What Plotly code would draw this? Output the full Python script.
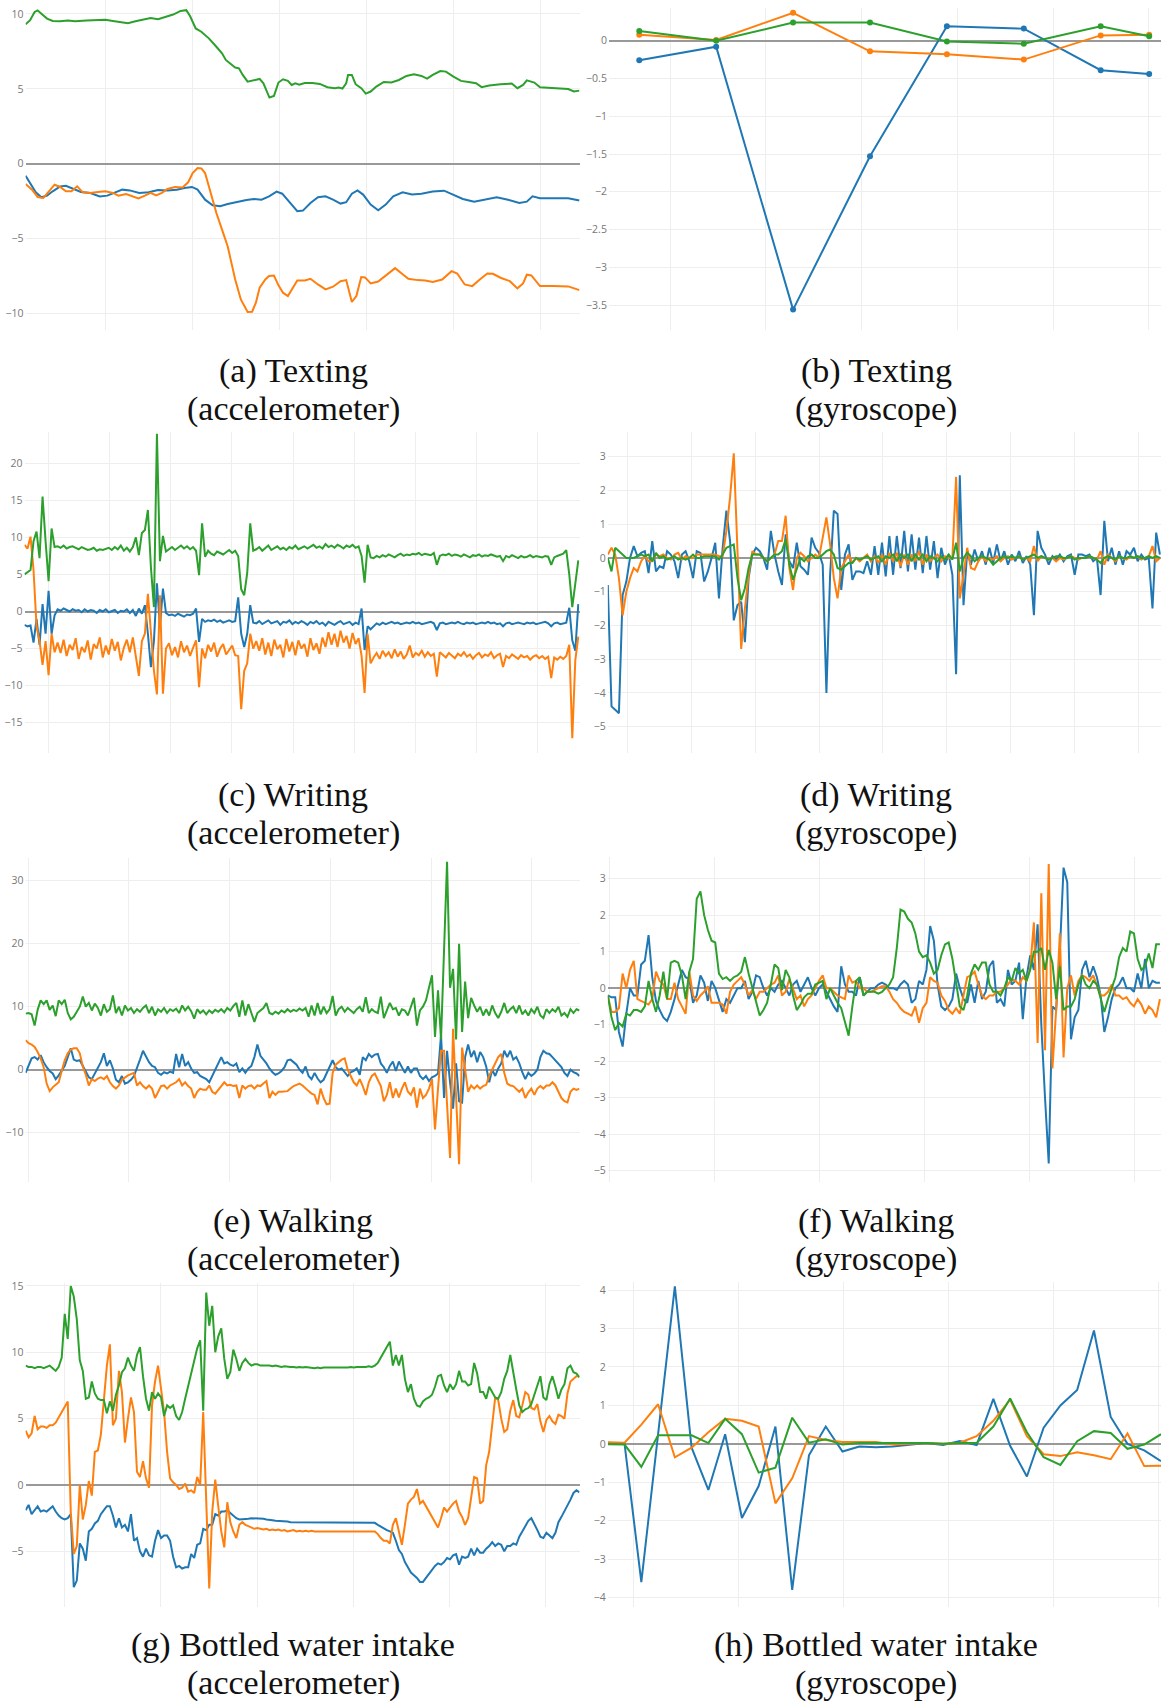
import plotly.graph_objects as go

W, H = 1161, 1702
C_X, C_Y, C_Z = "#1f77b4", "#ff7f0e", "#2ca02c"
GRID = "#eeeeee"
ZERO = "#999999"
TICK = "#777777"

# ---------------- (a) Texting, accelerometer (irregular timestamps) ----------------
ta_x = [68, 80, 95, 110, 125, 140, 160, 175, 195, 215, 240, 265, 285, 305, 325, 345, 370, 395, 420, 445,
        470, 490, 510, 525, 545, 565, 585, 605, 630, 655, 675, 695, 715, 735, 750, 770, 790, 805, 825, 845,
        865, 885, 905, 920, 935, 950, 965, 985, 1005, 1025, 1045, 1070, 1095, 1120, 1150, 1180, 1205, 1230,
        1260, 1290, 1320, 1350, 1380, 1400, 1415, 1435, 1470, 1510, 1540]
a_x = [-0.80, -1.29, -1.91, -2.24, -2.13, -1.84, -1.51, -1.47, -1.69, -1.89, -1.95, -2.18, -2.13, -1.91,
       -1.73, -1.78, -1.95, -1.91, -1.75, -1.78, -1.73, -1.62, -1.55, -1.73, -2.40, -2.77, -2.84, -2.69,
       -2.55, -2.42, -2.35, -2.40, -2.18, -1.86, -2.00, -2.62, -3.17, -3.13, -2.62, -2.24, -2.18, -2.40,
       -2.66, -2.57, -2.00, -1.78, -2.06, -2.73, -3.11, -2.73, -2.18, -1.91, -2.06, -2.00, -1.86, -1.80,
       -2.06, -2.35, -2.53, -2.40, -2.24, -2.40, -2.62, -2.53, -2.18, -2.31, -2.31, -2.31, -2.46]

ta_y = [68, 85, 100, 115, 130, 145, 160, 175, 190, 205, 220, 240, 260, 280, 300, 315, 335, 350, 368, 385,
        400, 415, 430, 445, 465, 485, 500, 512, 525, 535, 545, 560, 575, 590, 605, 615, 625, 640, 658, 670,
        680, 690, 705, 715, 728, 740, 752, 765, 775, 790, 810, 825, 845, 865, 885, 905, 920, 935, 947, 960,
        970, 985, 1005, 1025, 1050, 1065, 1085, 1110, 1130, 1150, 1175, 1200, 1215, 1235, 1255, 1275, 1295,
        1310, 1330, 1355, 1375, 1390, 1400, 1412, 1435, 1470, 1510, 1540]
a_y = [-1.35, -1.73, -2.22, -2.29, -1.84, -1.40, -1.55, -1.84, -1.84, -1.51, -1.91, -1.95, -1.89, -1.84,
       -1.95, -2.13, -2.02, -2.13, -2.31, -2.13, -1.95, -2.11, -1.95, -1.69, -1.55, -1.58, -1.24, -0.62,
       -0.29, -0.31, -0.62, -1.95, -3.29, -4.40, -5.51, -6.62, -7.73, -9.06, -9.90, -9.88, -9.28, -8.28,
       -7.73, -7.50, -7.46, -8.12, -8.61, -8.83, -8.39, -7.79, -7.79, -7.68, -8.06, -8.39, -8.21, -7.84,
       -7.77, -9.23, -8.83, -7.57, -7.59, -7.99, -7.86, -7.46, -6.97, -7.28, -7.68, -7.77, -7.79, -7.90,
       -7.73, -7.17, -7.33, -8.06, -8.17, -7.73, -7.33, -7.35, -7.61, -7.84, -8.32, -7.99, -7.41, -7.46,
       -8.17, -8.17, -8.19, -8.44]

ta_z = [68, 80, 92, 100, 110, 125, 140, 160, 180, 200, 230, 260, 280, 300, 320, 340, 360, 380, 400, 420,
        440, 460, 480, 495, 505, 520, 535, 555, 575, 590, 600, 615, 625, 635, 645, 658, 670, 690, 700, 710,
        716, 728, 740, 752, 765, 775, 785, 795, 810, 830, 850, 870, 890, 900, 910, 920, 925, 935, 945, 960,
        972, 985, 1000, 1020, 1040, 1060, 1080, 1100, 1120, 1135, 1150, 1170, 1185, 1205, 1225, 1245, 1265,
        1280, 1300, 1330, 1360, 1375, 1390, 1400, 1420, 1435, 1470, 1510, 1525, 1540]
a_z = [9.31, 9.58, 10.13, 10.24, 10.02, 9.69, 9.53, 9.51, 9.56, 9.51, 9.56, 9.58, 9.61, 9.53, 9.45, 9.38,
       9.51, 9.63, 9.72, 9.65, 9.80, 9.96, 10.20, 10.25, 9.86, 9.03, 8.81, 8.37, 7.81, 7.37, 6.93, 6.59,
       6.42, 6.37, 5.93, 5.48, 5.53, 5.66, 5.37, 4.82, 4.42, 4.53, 5.42, 5.64, 5.53, 5.26, 5.37, 5.28, 5.39,
       5.39, 5.33, 5.11, 5.04, 5.08, 5.02, 5.37, 5.93, 5.93, 5.31, 5.04, 4.68, 4.82, 5.15, 5.46, 5.42, 5.59,
       5.86, 5.97, 5.86, 5.68, 5.93, 6.19, 6.15, 5.82, 5.53, 5.46, 5.37, 5.11, 5.22, 5.31, 5.35, 5.04, 5.26,
       5.57, 5.42, 5.11, 5.06, 4.99, 4.82, 4.88]

# ---------------- (b) Texting, gyroscope ----------------
tb = [0, 1, 2, 3, 4, 5, 6, 6.63]
b_x = [-0.26, -0.08, -3.56, -1.53, 0.19, 0.16, -0.39, -0.44]
b_y = [0.08, 0.01, 0.37, -0.14, -0.18, -0.25, 0.07, 0.08]
b_z = [0.13, 0.0, 0.24, 0.24, -0.01, -0.04, 0.19, 0.06]

# ---------------- (c) Writing, accelerometer (uniform samples) ----------------
c_x = [-1.8, -2.0, -1.9, -4.2, -1.0, -4.5, 1.0, -3.0, 2.8, -3.0, -0.5,
       0.3, 0.1, 0.4, 0.2, 0.0, 0.3, 0.1, 0.2, -0.1, 0.3, 0.0, 0.2, 0.1, -0.2, 0.2, 0.0, 0.3, -0.1, 0.1,
       0.2, -0.2, 0.1, 0.0, 0.3,
       -0.2, 0.2, -0.6, 0.4, -0.3, 0.85, -3.0, -7.5, -4.0, 3.8, -2.0, 3.1, -0.2,
       -0.5, -0.4, -0.6, -0.3, -0.5, -0.7, -0.4, -0.5, -0.3, 0.4,
       -4.1, -1.0, -1.4, -1.2,
       -1.3, -1.1, -1.4, -1.2, -1.5, -1.3, -1.2, -1.4, -1.3,
       1.9, -3.0, -4.8, -3.0, 0.85, -1.5,
       -1.6, -1.3, -1.7, -1.4, -1.2, -1.6, -1.5, -1.3, -1.8, -1.4, -1.5, -1.2, -1.7, -1.4, -1.6, -1.3,
       -1.5, -1.8, -1.4, -1.6, -1.3, -1.7, -1.5, -1.9, -1.4, -1.6, -1.8, -1.5, -1.3, -1.7, -1.6, -1.4,
       -1.8, -1.5, -1.7,
       0.4, -5.2, -2.0, -2.4,
       -2.0, -1.6, -1.8, -1.5, -1.7, -1.6, -1.4, -1.6, -1.5, -1.7, -1.6, -1.5, -1.6, -1.4, -1.6, -1.5,
       -1.7, -1.6, -1.5, -1.4, -1.6,
       -2.5,
       -1.6, -1.5, -1.7, -1.6, -1.5, -1.6, -1.4, -1.6, -1.7, -1.5, -1.6, -1.5, -1.7, -1.6, -1.5, -1.6,
       -1.4, -1.6, -1.5, -1.7, -1.6,
       -2.0,
       -1.6, -1.5, -1.7, -1.6, -1.5, -1.6, -1.7, -1.5, -1.6, -1.5, -1.7, -1.6, -1.5, -1.4, -1.6,
       -2.0,
       -1.6, -1.5, -1.7, -1.6,
       -1.5, 0.5, -3.9, -5.3, 1.0]
c_y = [9.0, 8.5, 10.1, 5.6, -2.0, -4.0, -7.2, -4.0, -8.6, -3.0, -5.5,
       -4.2, -5.6, -3.8, -6.0, -4.5, -5.2, -3.6, -6.4, -4.8, -5.5, -3.9, -6.5, -4.4, -5.0, -3.5, -6.2,
       -4.6, -5.8, -3.7, -5.3, -4.1, -6.6, -4.9, -3.8,
       -5.5, -3.5, -6.0, -8.7, -4.0, -3.0, 2.4, -3.0, -8.0, -11.2, 2.2, -11.1, -5.0,
       -4.3, -5.9, -4.8, -6.2, -4.0, -5.5, -4.6, -6.0, -4.9, -3.9,
       -10.2, -5.0, -6.3, -4.5,
       -5.4, -4.2, -6.1, -5.0, -4.4, -5.8, -5.2, -4.6, -5.9,
       -6.0, -13.2, -8.0, -7.0, -3.0, -5.0,
       -4.0, -5.3, -3.6, -5.8, -4.2, -6.0, -3.8, -5.1, -4.5, -6.2, -3.7, -5.4, -4.1, -5.9, -3.9, -5.0,
       -4.4, -6.1, -3.6, -5.2, -4.3, -5.7, -3.5, -4.8,
       -2.8, -4.5, -3.0, -4.8, -2.6, -4.2, -3.3, -5.0, -2.9, -4.4, -3.6,
       -6.0, -11.0, -3.0, -7.0,
       -6.2, -5.6, -6.4, -5.3, -6.0, -5.5, -6.3, -5.1, -6.1, -5.4, -6.4, -5.8, -4.6, -6.2, -5.6, -5.9,
       -5.3, -6.1, -5.5, -6.0, -5.7,
       -8.8,
       -5.5, -5.8, -6.2, -5.6, -5.9, -6.3, -5.7, -6.0, -5.5, -6.1, -5.8, -6.4, -5.9, -5.6, -6.2, -5.8,
       -6.0, -5.5, -6.3, -5.9, -5.7,
       -7.5,
       -6.0, -6.3, -5.8, -6.1, -6.4, -5.9, -6.2, -6.0, -6.5, -6.1, -5.9, -6.3, -6.0, -6.4, -6.1,
       -9.0,
       -6.2, -6.5, -6.1, -6.4,
       -6.0, -4.5, -17.1, -6.6, -3.4]
c_z = [5.0, 5.3, 5.6, 9.5, 10.8, 7.2, 15.5, 9.5, 4.1, 11.2, 8.7,
       8.8, 8.6, 8.9, 8.5, 8.7, 8.8, 8.6, 8.4, 8.7, 8.5, 8.3, 8.4, 8.6, 8.2, 8.4, 8.3, 8.5, 8.6, 8.3, 8.7,
       8.4, 8.9, 8.2, 8.6,
       8.1, 8.7, 10.0, 7.6, 10.6, 11.0, 13.7, 6.0, 0.6, 24.0, 6.8, 10.2, 8.1,
       8.4, 8.7, 8.3, 8.6, 8.9, 8.5, 8.8, 8.4, 8.7, 8.2,
       4.9, 11.9, 7.4, 8.2,
       7.8, 7.6, 8.1, 7.9, 7.7, 8.0, 8.3, 7.9, 8.2,
       7.5, 3.0, 2.2, 5.2, 11.9, 8.2,
       8.4, 8.7, 8.2, 8.6, 8.9, 8.3, 8.5, 8.8, 8.4, 8.6, 8.3, 8.7, 8.5, 8.9, 8.4, 8.6, 8.8, 8.5, 8.7, 9.0,
       8.6, 8.8, 8.5, 9.1, 8.7, 8.9, 8.6, 9.0, 8.8, 8.5, 8.9, 8.7, 9.0, 8.6, 8.8,
       7.5, 3.9, 9.0, 7.3,
       7.2, 7.5, 7.3, 7.6, 7.4, 7.7, 7.5, 7.3, 7.6, 7.8, 7.5, 7.7, 7.6, 7.8, 7.7, 7.9, 7.6, 7.8, 7.7, 7.6,
       7.9,
       6.3,
       7.5, 7.7, 7.6, 7.8, 7.5, 7.7, 7.6, 7.4, 7.7, 7.5, 7.3, 7.6, 7.5, 7.7, 7.4, 7.6, 7.5, 7.7, 7.6, 7.4,
       7.5,
       6.8,
       7.5, 7.3, 7.6, 7.4, 7.2, 7.5, 7.3, 7.4, 7.6, 7.3, 7.5, 7.4, 7.3, 7.5, 7.4,
       6.3,
       7.3, 7.5, 7.6, 7.8,
       8.3, 5.0, 0.6, 4.0, 6.9]

# ---------------- (d) Writing, gyroscope ----------------
d_x = [-0.8, -4.4, -4.5, -4.6, -1.1, -0.7, 0.0, 0.35, 0.05, 0.15,
       0.2, -0.45, 0.5, -0.4, -0.25, -0.3, 0.2, 0.1, -0.1, -0.6,
       0.1, 0.2, -0.1, -0.6, 0.2, 0.15, -0.7, -0.4, 0.0, 0.45,
       -1.2, 0.3, 1.4, 0.5, -1.85, -1.4, -1.3, -2.5, -0.6, 0.1,
       0.3, 0.2, 0.0, -0.35, 0.8, 0.1, -0.4, -0.8, 0.7, -0.1,
       -0.3, 0.45, -0.25, -0.35, -0.5, 0.6, 0.3, 0.15, -0.2, -4.0,
       -0.5, 1.4, 1.3, -0.95, 0.1, 0.4, -0.65, -0.4, -0.4, -0.45,
       -0.1, -0.5, 0.35, -0.5, 0.45, -0.55, 0.65, -0.5, 0.65, -0.3,
       0.8, -0.4, 0.7, -0.35, 0.6, -0.45, 0.65, -0.35, 0.5, -0.6,
       0.3, -0.2, 0.1, -0.5, -3.45, 2.45, -1.4, 0.2, -0.2, 0.25,
       -0.1, 0.2, -0.2, 0.3, -0.15, 0.4, -0.1, 0.2, -0.2, 0.1,
       -0.1, 0.2, -0.15, 0.05, -0.2, -1.7, 0.8, 0.3, 0.1, -0.2,
       0.05, -0.05, 0.1, -0.1, 0.05, 0.1, -0.5, 0.1, 0.1, 0.05,
       0.1, -0.1, 0.0, -1.1, 1.1, -0.1, 0.3, -0.2, 0.2, -0.2,
       0.2, 0.1, 0.3, -0.1, 0.1, -0.05, 0.0, -1.5, 0.75, 0.1]
d_y = [0.1, 0.3, 0.1, -0.6, -1.7, -1.0, -0.6, -0.3, -0.4, -0.1,
       0.05, -0.1, -0.1, 0.1, 0.05, 0.1, 0.0, -0.05, 0.1, 0.15,
       -0.05, 0.05, 0.0, 0.0, 0.1, 0.1, 0.1, 0.1, 0.1, 0.1,
       0.05, 0.05, 0.8, 1.8, 3.1, 0.2, -2.7, -1.5, -0.5, 0.2,
       0.1, 0.1, 0.0, -0.1, 0.0, 0.1, 0.5, 0.5, 1.25, -0.3,
       -0.95, 0.0, 0.15, 0.05, -0.1, 0.0, 0.1, 0.0, 0.6, 1.2,
       0.4, -0.6, -1.2, -0.3, -0.1, 0.1, -0.15, 0.0, -0.1, 0.0,
       0.1, -0.1, 0.05, -0.15, 0.1, -0.2, 0.15, -0.1, 0.15, -0.25,
       0.1, -0.2, 0.1, -0.1, 0.2, -0.2, 0.1, -0.1, 0.0, 0.1,
       -0.1, 0.05, 0.0, 0.0, 2.4, -1.2, -0.5, 0.3, -0.3, -0.35,
       -0.1, 0.05, -0.1, 0.0, -0.05, 0.05, -0.1, 0.0, 0.05, -0.05,
       0.0, 0.05, -0.05, 0.0, -0.1, 0.35, -0.1, 0.05, 0.0, -0.05,
       0.0, -0.1, 0.0, -0.05, 0.0, 0.05, 0.0, -0.05, 0.0, 0.0,
       0.05, 0.0, -0.05, 0.2, -0.2, 0.1, 0.0, -0.1, 0.05, 0.0,
       -0.05, 0.05, 0.0, 0.05, -0.05, 0.0, 0.05, 0.35, -0.1, 0.0]
d_z = [0.0, -0.4, 0.3, 0.2, 0.1, 0.0, 0.0, 0.0, 0.05, 0.1,
       0.05, 0.1, -0.1, 0.15, 0.0, 0.05, -0.05, 0.0, 0.05, -0.05,
       0.0, -0.05, 0.0, 0.1, 0.0, 0.0, 0.05, 0.05, 0.05, 0.05,
       -0.05, 0.1, 0.3, 0.35, 0.4, -0.6, -1.25, -0.9, -0.3, 0.1,
       0.1, 0.1, 0.0, -0.1, 0.0, 0.1, 0.1, 0.2, 0.55, -0.2,
       -0.65, -0.3, 0.0, -0.1, 0.05, 0.1, 0.0, 0.0, 0.1, 0.2,
       0.25, 0.1, -0.3, -0.35, -0.25, -0.15, -0.15, 0.0, -0.05, 0.0,
       0.05, -0.05, 0.0, 0.05, -0.1, 0.05, 0.0, 0.1, -0.1, 0.1,
       0.0, 0.1, -0.1, 0.1, -0.05, 0.1, -0.1, 0.05, 0.0, -0.1,
       0.05, -0.05, 0.1, -0.05, 0.45, -0.4, 0.0, 0.15, 0.05, -0.1,
       0.0, 0.05, 0.0, -0.05, -0.2, -0.1, 0.0, 0.05, 0.0, 0.05,
       0.0, 0.05, -0.05, 0.0, 0.05, 0.1, 0.0, 0.05, 0.0, -0.05,
       0.0, 0.05, 0.05, 0.0, 0.0, 0.05, -0.05, 0.0, 0.0, 0.0,
       0.05, 0.0, -0.05, -0.15, 0.0, 0.05, 0.0, -0.05, 0.05, 0.0,
       0.0, 0.05, 0.0, 0.05, 0.0, 0.0, 0.05, 0.0, 0.05, 0.0]

# ---------------- (e) Walking, accelerometer ----------------
e_x = [-0.5, 0.6, 1.8, 2.0, 1.6, 2.3, 1.2, 0.4, -0.2, -0.6,
       -1.5, -0.9, -0.2, 0.6, 2.0, 3.4, 1.6, 1.4, 1.5, 0.6,
       -0.4, -1.2, -1.5, -0.6, 0.4, 1.2, 2.6, 0.6, 1.5, 0.2,
       -1.6, -2.0, -1.0, -2.2, -2.0, -1.6, -1.0, 0.2, 1.6, 3.0,
       2.0, 1.2, 0.6, 0.4, -0.5, -0.8, -0.4, -0.6, -0.3, -0.5,
       2.5, 0.4, 2.5, 0.6, 1.2, 0.2, -0.5, -0.4, -1.0, -1.2,
       -1.5, -2.0, -1.0, 0.2, 1.2, 2.0, 1.0, 1.2, 0.8, 0.6,
       1.0, -0.4, 0.2, -0.5, 0.2, 0.6, 2.0, 4.0, 2.2, 1.6,
       1.0, 0.2, -0.4, -0.8, -0.6, -0.2, 0.4, 1.5, 1.6, 1.2,
       0.8, 0.0, -0.5, 0.5, -1.0, -1.5, -0.5, -1.4, -2.0, -1.6,
       -0.6, 0.4, 1.5, 0.4, 0.0, 0.2, -0.5, -1.0, -0.4, -0.2,
       0.2, -0.8, 2.0, 1.5, 2.5, 2.0, 2.4, 2.5, 1.0, 0.4,
       -0.5, 0.6, 1.3, -0.2, 1.3, 0.4, -0.5, 0.5, -0.5, 0.2,
       0.2, -1.0, -1.5, -1.0, -1.8, -1.2, -1.0, -0.6, 5.5, -4.5,
       3.0, -2.0, -6.2, 1.0, -5.0, -5.2, 2.0, 4.0, 2.0, 3.0,
       1.2, 2.8, 2.0, 0.5, -2.0, 0.0, -1.0, 0.2, 1.0, 3.0,
       2.0, 3.0, 1.6, 2.0, 1.0, -0.4, -1.5, -0.5, -1.0, -0.6,
       0.0, 2.0, 3.0, 2.6, 2.5, 2.0, 1.5, 1.0, 0.4, -0.5,
       -1.0, 0.0, -0.4, -0.6, -1.0]
e_y = [4.7, 4.2, 4.0, 3.6, 2.8, 1.8, 0.4, -2.2, -3.4, -2.8,
       -2.4, -2.0, -0.2, 1.5, 2.6, 3.2, 3.4, 3.4, 2.6, 0.5,
       -0.8, -2.5, -1.5, -1.8, -1.4, -1.2, -1.5, -1.0, -2.0, -2.6,
       -3.0, -2.5, -1.6, -1.2, -0.9, -0.7, -0.5, -2.5, -2.0, -2.6,
       -3.0, -2.5, -3.0, -4.5, -3.5, -2.6, -2.5, -3.0, -2.5, -2.2,
       -2.0, -1.5, -2.5, -2.0, -2.6, -3.0, -4.5, -3.5, -3.0, -3.2,
       -3.2, -2.5, -3.5, -3.8, -3.2, -2.6, -2.0, -2.5, -2.4, -2.6,
       -2.5, -4.5, -2.5, -3.0, -2.6, -2.5, -3.0, -2.5, -2.6, -2.2,
       -1.8, -4.5, -3.5, -4.0, -3.5, -3.5, -3.5, -3.4, -3.0, -2.6,
       -2.4, -2.2, -2.5, -3.0, -3.4, -3.8, -4.0, -5.5, -3.0, -4.5,
       -5.5, -5.4, -0.5, 0.8, 1.2, 1.6, 1.8, 0.0, -1.0, -2.0,
       -2.5, -1.5, -2.6, -4.0, -2.0, -1.0, -0.6, -1.5, -2.6, -5.0,
       -4.0, -2.0, -4.5, -3.0, -4.4, -3.0, -2.0, -3.5, -4.0, -2.8,
       -6.0, -3.0, -4.5, -4.0, -3.0, -1.5, -9.5, -3.0, 3.0, 3.0,
       -6.5, -14.0, 6.5, -4.0, -15.0, 3.5, 0.0, -3.5, -2.5, -3.0,
       -2.5, -3.0, -2.6, -2.4, -1.0, 0.0, 1.2, 2.0, 2.5, -0.5,
       -2.2, -2.5, -2.6, -3.0, -3.5, -3.0, -4.5, -3.6, -3.0, -4.0,
       -3.0, -2.6, -3.0, -2.5, -2.5, -2.0, -2.5, -3.5, -4.5, -5.0,
       -5.2, -3.5, -3.0, -3.2, -3.0]
e_z = [8.9, 9.0, 8.8, 7.0, 9.5, 11.0, 10.4, 11.0, 9.5, 10.2,
       8.5, 11.0, 10.4, 11.1, 9.0, 8.0, 8.4, 9.2, 10.0, 11.6,
       10.0, 10.6, 9.4, 10.5, 9.8, 8.6, 10.4, 9.2, 9.6, 11.8,
       9.0, 10.0, 8.6, 10.2, 9.4, 9.8, 9.0, 9.6, 9.2, 9.8,
       10.2, 9.0, 10.0, 8.6, 9.6, 9.2, 9.8, 9.0, 9.6, 9.3,
       9.7, 9.0, 10.2, 9.4, 10.0, 9.3, 8.1, 9.6, 9.0, 9.4,
       8.8, 9.4, 9.0, 9.5, 9.2, 9.6, 9.1, 9.8, 9.4, 10.1,
       10.6, 8.4, 11.0, 8.6, 10.4, 9.0, 7.6, 9.0, 9.4, 9.8,
       10.6, 9.0, 8.8, 9.2, 8.9, 9.4, 9.1, 9.6, 9.2, 9.5,
       9.3, 9.7, 9.4, 9.8, 8.4, 10.2, 8.6, 10.6, 8.8, 10.0,
       9.0, 9.6, 11.7, 8.6, 9.6, 10.0, 9.2, 9.8, 9.4, 9.0,
       9.6, 10.0, 9.2, 11.5, 9.0, 9.6, 9.2, 9.0, 11.6, 8.2,
       9.4, 10.6, 9.6, 9.8, 8.6, 9.6, 9.4, 8.6, 10.0, 11.4,
       7.0, 9.4, 10.0, 11.0, 13.0, 15.0, 5.2, 12.6, 4.8, 18.0,
       33.0, 13.0, 16.0, 4.8, 20.0, 6.0, 14.0, 8.2, 11.4, 10.2,
       9.2, 10.0, 8.6, 9.6, 8.6, 10.2, 9.0, 8.2, 9.2, 10.6,
       9.0, 9.6, 10.0, 9.0, 10.2, 8.8, 9.4, 8.6, 9.6, 9.0,
       10.0, 8.6, 8.2, 9.6, 9.0, 9.6, 9.2, 10.0, 8.6, 9.0,
       8.4, 9.6, 9.0, 9.6, 9.4]

# ---------------- (f) Walking, gyroscope ----------------
f_x = [-0.2, -0.25, -0.25, -1.2, -1.6, -0.7, 0.0, -0.2, -0.2, 0.65,
       0.75, 1.45, 0.3, -0.35, -0.6, -0.8, -0.9, -0.65, -0.3, 0.1,
       0.5, 0.3, 0.25, -0.4, -0.2, 0.35, 0.15, -0.35, 0.2, 0.0,
       -0.3, -0.65, -0.3, -0.4, -0.2, 0.0, 0.0, 0.2, -0.3, -0.1,
       0.35, 0.3, 0.0, -0.2, 0.0, -0.1, 0.1, 0.2, 0.0, -0.2,
       0.1, 0.2, -0.1, 0.1, 0.3, 0.0, -0.2, 0.0, 0.1, -0.1,
       -0.3, -0.5, -0.65, 0.6, 0.1, -0.1, -0.1, -0.2, 0.3, -0.2,
       -0.1, 0.0, 0.0, 0.1, 0.15, 0.1, 0.0, 0.0, -0.05, 0.1,
       0.2, 0.1, -0.4, -0.3, 0.2, 0.1, 0.5, 1.7, 1.3, 0.1,
       -0.5, -0.6, -0.5, -0.3, 0.4, 0.0, -0.3, -0.4, 0.1, -0.4,
       0.2, -0.3, -0.1, 0.6, 0.75, -0.4, -0.3, -0.5, 0.5, 0.1,
       0.2, 0.7, -0.85, 0.3, 0.9, 0.5, 1.75, -1.0, -3.0, -4.8,
       -0.5, -0.6, 1.0, 3.3, 2.9, -1.4, -0.8, -0.6, 0.5, 0.75,
       0.3, 0.6, 0.3, -0.2, -1.2, -0.8, -0.3, 0.0, 0.1, 0.3,
       0.0, 0.0, -0.1, 0.4, 0.0, 0.8, 0.0, 0.2, 0.15, 0.15]
f_y = [-0.2, -0.65, -0.65, -0.55, 0.4, 0.0, 0.5, 0.75, -0.3, -0.35,
       -0.4, -0.45, -0.3, 0.45, 0.2, 0.1, -0.3, -0.3, 0.15, -0.3,
       -0.5, -0.7, 0.45, -0.2, -0.35, -0.2, -0.1, 0.05, -0.4, -0.4,
       -0.4, -0.45, -0.7, -0.1, 0.1, 0.2, 0.3, 0.1, -0.2, -0.05,
       -0.3, -0.1, -0.1, 0.0, 0.1, 0.15, 0.35, -0.2, -0.1, 0.25,
       0.0, -0.3, -0.2, -0.5, -0.3, -0.2, 0.0, 0.2, 0.35, 0.0,
       0.0, -0.1, -0.2, -0.25, -0.3, 0.35, 0.15, 0.2, 0.0, 0.0,
       -0.1, -0.1, -0.05, 0.0, 0.05, 0.05, -0.1, -0.3, -0.4, -0.55,
       -0.65, -0.7, -0.75, -0.5, -0.95, -0.55, -0.4, 0.3, 0.2, 0.15,
       -0.2, -0.35, -0.6, -0.7, -0.55, -0.7, -0.2, 0.3, 0.35, 0.45,
       0.1, -0.2, -0.3, -0.2, -0.2, -0.1, -0.1, 0.0, 0.1, 0.25,
       0.2, 0.1, 0.3, 0.2, 0.55, 1.8, -1.5, 2.6, -1.7, 3.4,
       -2.2, -0.6, 1.5, -1.9, 0.0, 0.35, -0.2, 0.2, 0.35, 0.3,
       0.2, 0.35, 0.1, -0.2, -0.2, -0.1, 0.1, -0.2, -0.2, -0.3,
       -0.25, -0.4, -0.5, -0.3, -0.45, -0.7, -0.5, -0.6, -0.8, -0.3]
f_z = [-0.2, -0.8, -1.15, -0.95, -1.05, -0.7, -0.75, -0.6, -0.6, -0.65,
       -0.5, 0.2, -0.3, -0.65, -0.2, 0.45, -0.3, 0.7, 0.75, 0.7,
       0.35, -0.3, 0.45, 0.8, 2.45, 2.65, 2.0, 1.6, 1.3, 1.25,
       0.4, 0.25, 0.3, 0.2, 0.3, 0.35, 0.45, 0.85, 0.4, 0.0,
       -0.4, -0.75, -0.6, -0.4, 0.1, 0.65, 0.55, -0.05, 0.5, 0.3,
       -0.2, -0.6, -0.45, -0.25, -0.15, -0.15, 0.1, 0.15, 0.2, -0.3,
       0.0, -0.2, -0.4, -0.55, -0.95, -1.3, -0.5, 0.2, 0.3, -0.2,
       -0.1, -0.1, -0.1, -0.15, -0.1, 0.0, 0.1, 0.3, 1.1, 2.15,
       2.1, 1.9, 1.8, 1.5, 1.0, 0.85, 0.9, 0.7, 0.4, 0.5,
       0.9, 1.2, 1.25, 0.8, 0.2, -0.5, -0.6, -0.2, 0.4, 0.65,
       0.5, 0.7, 0.7, 0.1, -0.1, -0.1, -0.2, 0.0, 0.3, 0.2,
       0.55, 0.4, 0.5, 0.2, 0.5, 1.0, 1.0, 1.1, 0.5, 1.05,
       0.7, -0.3, 0.6, -0.6, -0.5, -0.5, -0.3, 0.1, 0.35, 0.1,
       0.0, 0.2, 0.1, -0.3, -0.65, -0.3, 0.0, 0.3, 0.85, 1.1,
       1.0, 1.55, 1.5, 0.8, 0.5, 0.6, 0.95, 0.55, 1.2, 1.2]

# ---------------- (g) Bottled water intake, accelerometer ----------------
g_x = [-1.9, -1.5, -2.2, -1.9, -1.6, -2.0, -1.9, -2.0, -1.8, -1.6,
       -2.0, -2.3, -2.5, -2.6, -2.5, -2.2, -7.7, -7.2, -4.4, -4.8,
       -5.7, -3.5, -3.3, -2.9, -2.7, -2.2, -1.9, -1.6, -1.6, -2.3,
       -3.2, -2.5, -3.2, -3.0, -3.5, -2.2, -4.2, -4.0, -5.0, -5.4,
       -4.8, -5.3, -5.4, -4.2, -3.4, -4.0, -3.8, -3.8, -4.2, -5.4,
       -6.2, -6.1, -6.3, -6.2, -6.2, -5.2, -5.5, -4.5, -4.4, -3.3,
       -3.4, -3.0, -3.0, -2.2, -2.3, -2.0, -2.0, -1.9, -2.1, -2.3,
       -2.5, -2.6, -2.6, -2.6, -2.55,
       -2.5, -2.5, -2.5, -2.55, -2.55, -2.6, -2.6, -2.65, -2.7, -2.7,
       -2.7, -2.75, -2.75, -2.8, -2.8, -2.8, -2.8, -2.8, -2.8, -2.8,
       -2.8, -2.85, -2.8, -2.85, -2.85, -2.85, -2.8, -2.85, -2.85, -2.85,
       -2.85, -2.8, -2.85, -2.8, -2.85, -2.8, -2.85, -2.8, -2.8, -2.85,
       -2.8,
       -2.85, -3.0, -3.15, -3.3,
       -3.4, -3.5, -3.6, -4.2, -4.9, -5.2, -5.8, -6.2, -6.6, -6.8,
       -7.0, -7.3, -7.3, -7.0, -6.7, -6.4, -6.1, -5.9, -6.0, -5.8,
       -5.5, -5.6, -5.3, -5.2, -6.0, -5.4, -5.5, -5.4, -4.8, -5.3,
       -4.8, -5.1, -5.1, -4.8, -4.6, -4.3, -4.6, -4.4, -4.5, -5.0,
       -4.6, -4.6, -4.4, -4.5, -3.9, -3.5, -3.1, -2.7, -2.5, -2.9,
       -3.4, -3.9, -4.0, -3.6, -3.8, -4.0, -3.6, -2.8, -2.4, -2.0,
       -1.6, -1.1, -0.6, -0.4, -0.55]
g_y = [4.1, 3.6, 3.9, 5.2, 4.2, 4.4, 4.4, 4.3, 4.5, 4.5,
       4.7, 5.1, 5.5, 5.8, 6.3, -2.0, -5.2, -4.6, 0.0, -2.6,
       -1.5, 0.3, -0.8, 2.5, 2.6, 3.8, 6.5, 9.0, 10.6, 4.5,
       5.0, 8.6, 7.0, 3.2, 5.0, 6.6, 5.5, 1.0, 0.6, 1.8,
       0.5, -0.2, 6.0, 7.8, 9.0, 7.2, 5.5, 2.5, 0.5, 0.2,
       0.0, -0.3, -0.2, 0.1, -0.5, -0.4, -0.6, 0.6, 0.0, 5.5,
       -1.5, -7.8, -2.0, 0.4, -1.6, -3.5, -4.7, -1.3, -2.8, -3.5,
       -4.0, -3.0, -2.8, -3.0, -3.1,
       -3.2, -3.3, -3.25, -3.3, -3.35, -3.3, -3.4, -3.35, -3.4, -3.35,
       -3.45, -3.4, -3.5, -3.45, -3.4, -3.5, -3.45, -3.5, -3.45, -3.5,
       -3.45, -3.5, -3.5, -3.45, -3.5, -3.5, -3.45, -3.5, -3.5, -3.45,
       -3.5, -3.45, -3.5, -3.5, -3.45, -3.5, -3.5, -3.45, -3.5, -3.5,
       -3.5,
       -3.5, -3.7, -4.0, -4.2,
       -4.2, -4.4, -3.0, -2.5, -3.5, -4.5, -3.0, -1.4, -1.1, -0.9,
       -0.3, -1.4, -1.2, -1.6, -2.1, -2.4, -2.8, -3.2, -2.5, -1.7,
       -2.0, -1.7, -1.4, -1.2, -2.0, -2.4, -3.0, -2.5, -0.8, 0.6,
       0.5, -1.4, -1.2, 1.5, 2.5, 4.5, 6.6, 6.4, 5.0, 4.0,
       4.2, 5.6, 6.4, 5.2, 5.1, 6.0, 7.0, 6.8, 5.8, 5.7,
       6.1, 4.8, 4.0, 4.9, 5.2, 4.8, 4.6, 5.3, 5.2, 5.0,
       6.9, 7.8, 8.0, 8.2, 8.2]
g_z = [9.0, 8.9, 8.9, 8.8, 8.9, 8.9, 8.8, 8.9, 9.0, 8.8,
       8.6, 8.9, 9.6, 12.9, 11.0, 15.0, 14.2, 12.5, 9.4, 8.6,
       6.5, 6.6, 7.8, 6.9, 6.5, 6.4, 6.4, 5.4, 6.3, 5.6,
       6.8, 7.5, 8.5, 8.8, 9.6, 9.0, 8.6, 9.8, 10.4, 8.2,
       6.5, 5.6, 7.0, 6.5, 6.9, 6.6, 5.2, 6.0, 5.8, 6.0,
       5.2, 4.9, 5.5, 6.5, 7.5, 8.3, 9.3, 10.3, 10.9, 5.6,
       14.5, 12.0, 13.5, 10.0, 11.2, 11.8, 9.5, 8.0, 8.5, 10.2,
       9.5, 8.6, 9.2, 9.5, 9.2, 9.0, 9.1,
       9.1, 9.0, 9.0, 9.05, 9.0, 8.95, 9.0, 8.95, 8.9, 8.95,
       8.9, 8.9, 8.9, 8.85, 8.9, 8.85, 8.9, 8.85,
       8.85, 8.8, 8.85, 8.8, 8.85, 8.85, 8.8, 8.85, 8.85, 8.8,
       8.85, 8.85, 8.85, 8.9, 8.85, 8.9, 8.9, 8.85, 8.9, 8.95, 8.9,
       9.0, 9.2, 9.6, 10.0, 10.4, 10.8, 9.0, 9.8, 9.0, 9.8, 8.0, 7.0, 7.6, 6.5,
       6.0, 5.9, 6.3, 6.5, 6.6, 6.8, 7.4, 8.2, 8.3, 7.5,
       7.0, 7.6, 7.2, 7.6, 8.6, 7.8, 7.8, 7.5, 7.6, 9.2,
       8.4, 7.0, 7.0, 6.5, 7.4, 7.0, 6.6, 6.5, 7.0, 8.0,
       8.6, 9.8, 8.4, 7.2, 6.0, 5.5, 5.7, 5.8, 6.1, 6.8,
       7.6, 8.2, 6.6, 6.4, 7.6, 8.2, 7.4, 6.5, 7.2, 7.6,
       8.8, 9.0, 8.5, 8.4, 8.1]

# ---------------- (h) Bottled water intake, gyroscope ----------------
h_x = [0.03, 0.0, -3.6, 0.3, 4.1, -0.1, -1.2, 0.25, -1.93, -1.1,
       0.45, -3.8, -0.3, 0.45, -0.2, -0.07, -0.09, -0.07, -0.02, 0.02,
       -0.03, 0.07, -0.03, 1.17, -0.05, -0.85, 0.42, 1.0, 1.4, 2.95,
       0.7, 0.0, -0.17, -0.45]
h_y = [0.04, 0.03, 0.5, 1.03, -0.35, -0.1, 0.3, 0.65, 0.6, 0.45,
       -1.55, -0.9, 0.2, 0.1, 0.05, 0.05, 0.05, -0.02, 0.0, 0.02,
       0.0, 0.03, 0.2, 0.6, 1.15, 0.2, -0.27, -0.32, -0.22, -0.3,
       -0.4, 0.27, -0.58, -0.57]
h_z = [-0.01, -0.02, -0.6, 0.22, 0.22, 0.22, 0.02, 0.65, 0.25, -0.75,
       -0.62, 0.68, 0.03, 0.12, -0.02, 0.02, 0.02, 0.02, 0.02, 0.02,
       0.0, 0.02, 0.02, 0.45, 1.18, 0.3, -0.35, -0.55, 0.07, 0.33,
       0.28, -0.13, -0.02, 0.25]

captions = [
    ("(a) Texting", "(accelerometer)"), ("(b) Texting", "(gyroscope)"),
    ("(c) Writing", "(accelerometer)"), ("(d) Writing", "(gyroscope)"),
    ("(e) Walking", "(accelerometer)"), ("(f) Walking", "(gyroscope)"),
    ("(g) Bottled water intake", "(accelerometer)"), ("(h) Bottled water intake", "(gyroscope)"),
]


def idx(v):
    return list(range(len(v)))


# panel geometry in pixels: plot box (left, right, top, bottom)
panels = [
    dict(tr=[(ta_x, a_x), (ta_y, a_y), (ta_z, a_z)], xr=[68, 1540], g=(280, 231.4),
         box=(25.6, 579.5, 0, 330), yr=[-11.1, 10.93], ydt=5, mk=False),
    dict(tr=[(tb, b_x), (tb, b_y), (tb, b_z)], xr=[-0.395, 6.784], g=(0.40, 1.245),
         box=(608.9, 1161, 8, 330), yr=[-3.83, 0.433], ydt=0.5, mk=True),
    dict(tr=[(idx(c_x), c_x), (idx(c_y), c_y), (idx(c_z), c_z)], xr=[0, 184.4], g=(7.875, 20.34),
         box=(24.5, 579.5, 431.7, 753.3), yr=[-19.14, 24.27], ydt=5, mk=False),
    dict(tr=[(idx(d_x), d_x), (idx(d_y), d_y), (idx(d_z), d_z)], xr=[0, 149.3], g=(5.3, 17.24),
         box=(607.8, 1161, 431.7, 753.3), yr=[-5.79, 3.74], ydt=1, mk=False),
    dict(tr=[(idx(e_x), e_x), (idx(e_y), e_y), (idx(e_z), e_z)], xr=[0, 184], g=(0.875, 33.45),
         box=(25.6, 579.5, 858.3, 1181.7), yr=[-17.78, 33.56], ydt=10, mk=False),
    dict(tr=[(idx(f_x), f_x), (idx(f_y), f_y), (idx(f_z), f_z)], xr=[0, 149.3], g=(0.5, 28.34),
         box=(607.8, 1161, 856.7, 1181.7), yr=[-5.30, 3.60], ydt=1, mk=False),
    dict(tr=[(idx(g_x), g_x), (idx(g_y), g_y), (idx(g_z), g_z)], xr=[0, 184], g=(13, 31.95),
         box=(25.6, 579.5, 1283.3, 1606.7), yr=[-9.17, 15.2], ydt=5, mk=False),
    dict(tr=[(idx(h_x), h_x), (idx(h_y), h_y), (idx(h_z), h_z)], xr=[0, 33], g=(1.547, 6.255),
         box=(607.8, 1161, 1281.7, 1606.7), yr=[-4.24, 4.22], ydt=1, mk=False),
]

caption_pos = [(293, 371), (876, 371), (293, 795), (876, 795),
               (293, 1221), (876, 1221), (293, 1645), (876, 1645)]

fig = go.Figure()
layout = dict(width=W, height=H, margin=dict(l=0, r=0, t=0, b=0), autosize=False,
              paper_bgcolor="white", plot_bgcolor="white", showlegend=False,
              template="none", annotations=[])

colors = [C_X, C_Y, C_Z]
for k, p in enumerate(panels, start=1):
    sx = "" if k == 1 else str(k)
    for (t, v), col in zip(p["tr"], colors):
        fig.add_trace(go.Scatter(
            x=t, y=v, xaxis="x" + sx, yaxis="y" + sx,
            mode="lines+markers" if p["mk"] else "lines",
            line=dict(color=col, width=2), marker=dict(color=col, size=6),
            hoverinfo="skip"))
    l, r, t0, b0 = p["box"]
    layout["xaxis" + sx] = dict(
        domain=[l / W, min(r / W, 1.0)], range=p["xr"], anchor="y" + sx,
        tick0=p["g"][0], dtick=p["g"][1], showticklabels=False, ticks="",
        showgrid=True, gridcolor=GRID, gridwidth=1, zeroline=False, showline=False)
    layout["yaxis" + sx] = dict(
        domain=[1 - b0 / H, 1 - t0 / H], range=p["yr"], anchor="x" + sx,
        tick0=0, dtick=p["ydt"], ticks="", ticklabelstandoff=1,
        tickfont=dict(family="Open Sans", size=10.5, color=TICK),
        showgrid=True, gridcolor=GRID, gridwidth=1,
        zeroline=True, zerolinecolor=ZERO, zerolinewidth=1.5, showline=False)

for (line1, line2), (cx, cy) in zip(captions, caption_pos):
    for txt, yy in ((line1, cy), (line2, cy + 38)):
        layout["annotations"].append(dict(
            text=txt, x=cx / W, y=1 - yy / H, xref="paper", yref="paper",
            xanchor="center", yanchor="middle", showarrow=False,
            font=dict(family="Liberation Serif", size=34, color="#111111")))

fig.update_layout(**layout)
fig.write_html("out.html")
